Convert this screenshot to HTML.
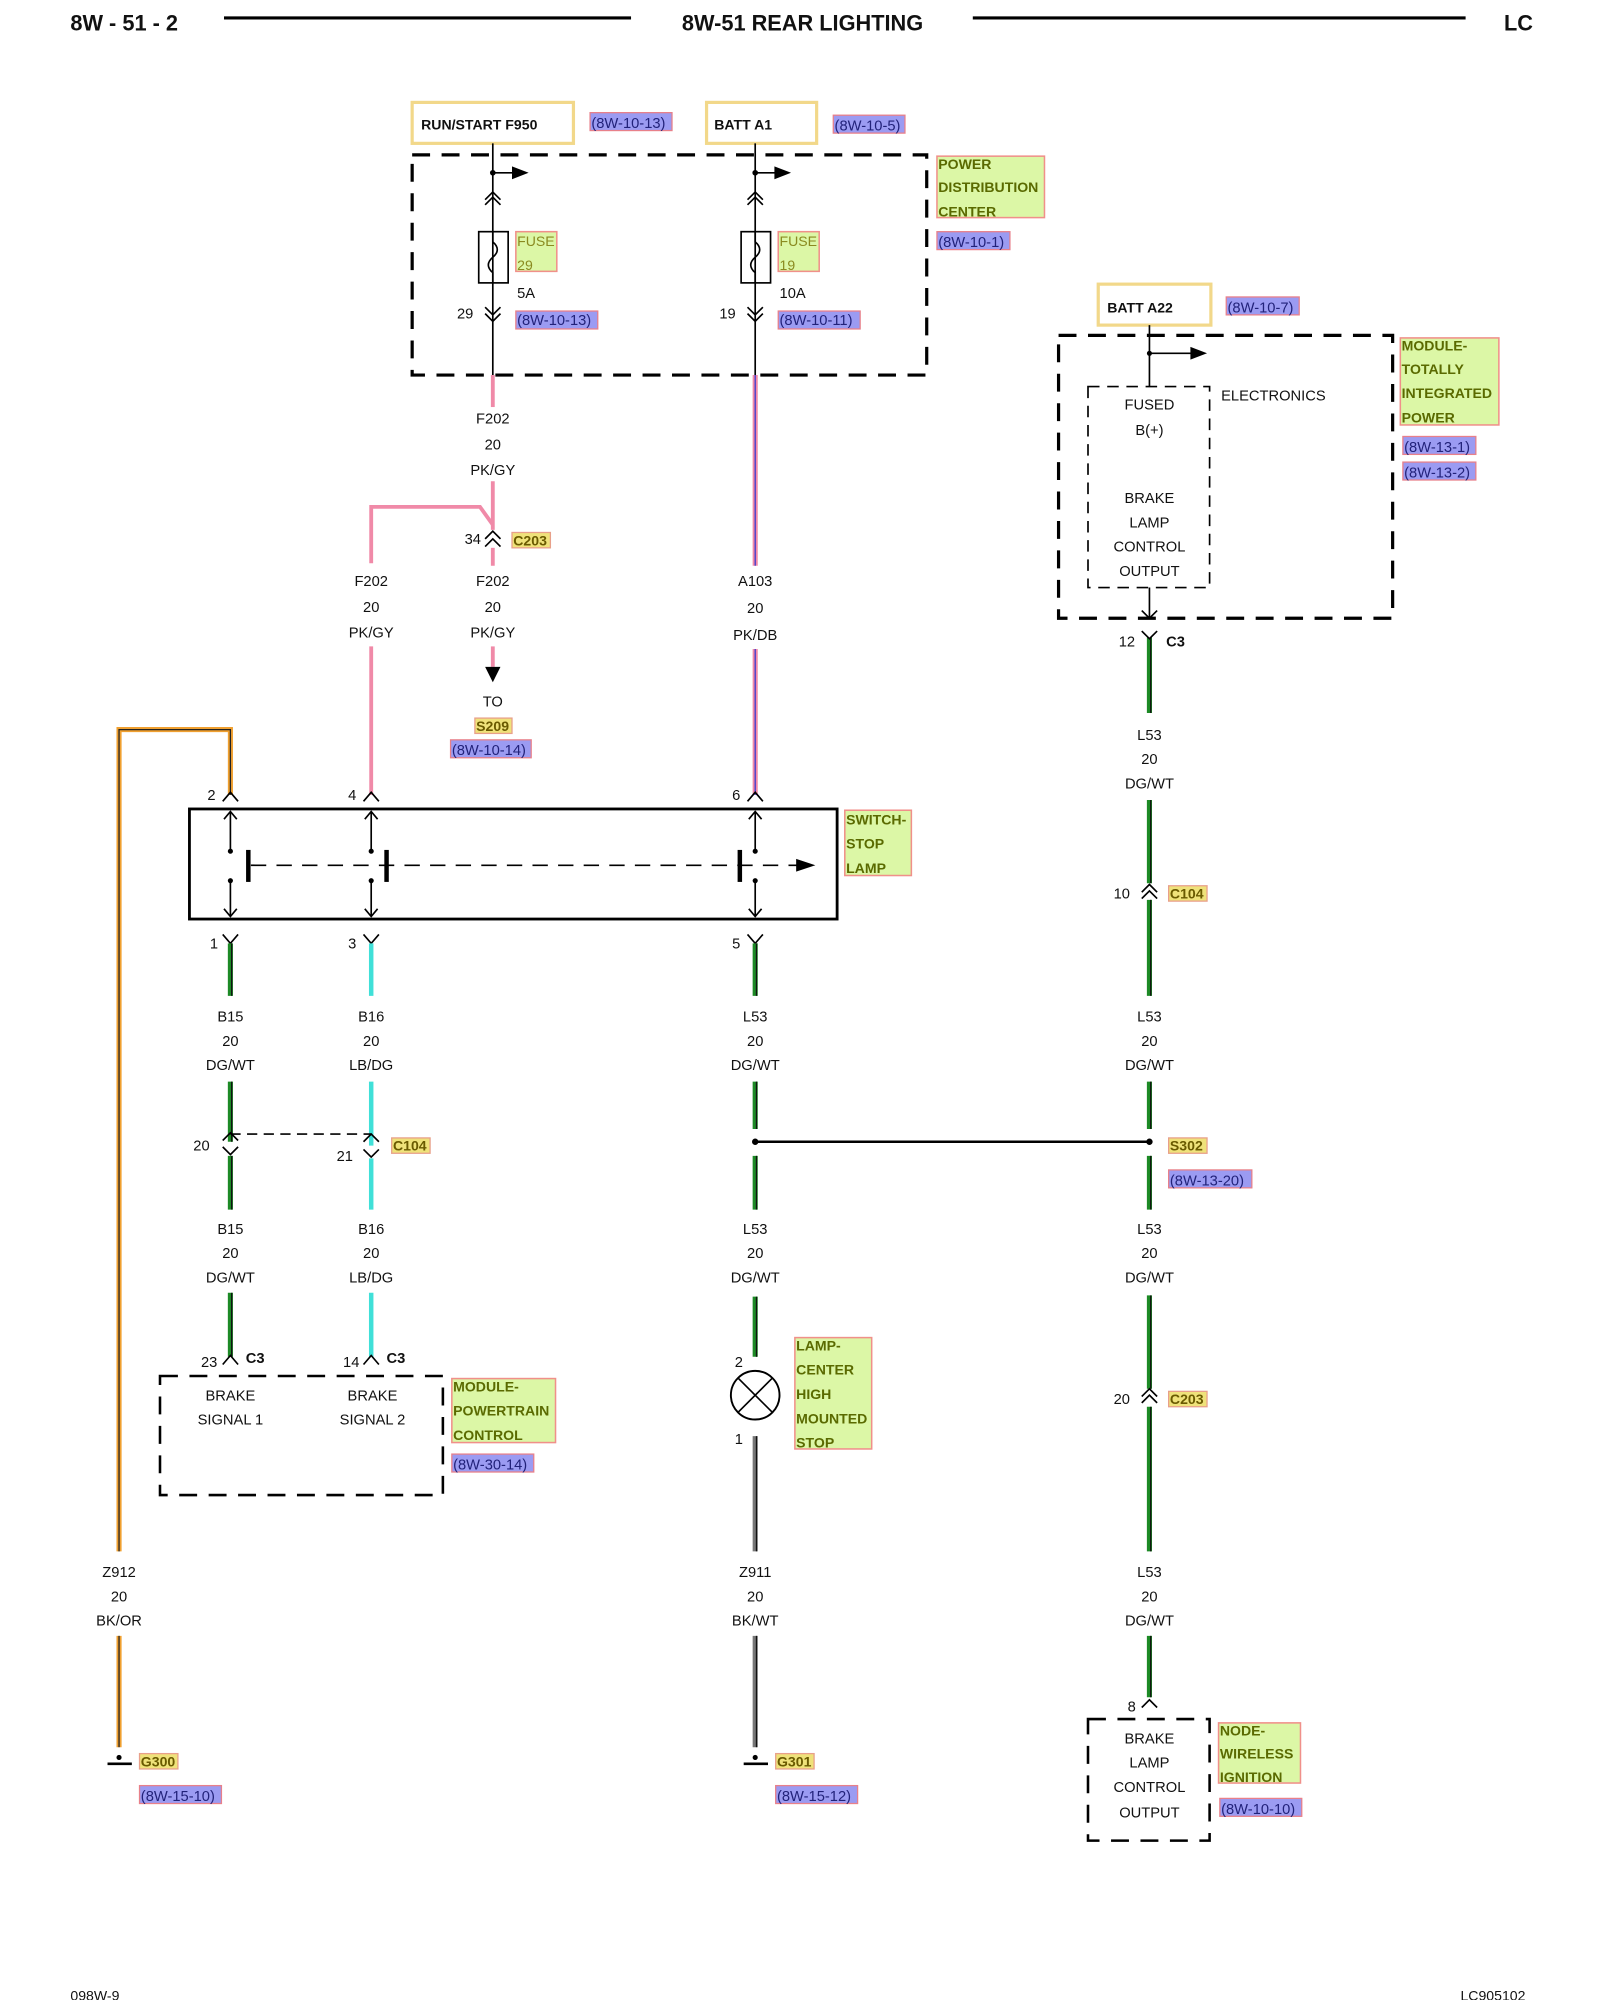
<!DOCTYPE html>
<html><head><meta charset="utf-8"><style>
html,body{margin:0;padding:0;background:#fff;}
svg{display:block;}
text{font-family:"Liberation Sans",Arial,sans-serif;font-size:11.5px;fill:#111;}
.c{text-anchor:middle;}
.b{font-weight:bold;}
.g{fill:#dcf7a6;stroke:#f0908a;stroke-width:1.2;}
.gt{fill:#5a6a00;font-weight:bold;font-size:11px;}
.p{fill:#9b9bf2;stroke:#e8808a;stroke-width:1;}
.pt{fill:#22227a;font-size:11.5px;}
.y{fill:#efe27a;stroke:#e8a08a;stroke-width:1;}
.yt{fill:#6a5a00;font-weight:bold;font-size:11px;}
.k{stroke:#000;fill:none;stroke-width:1.3;}
.d{stroke:#000;fill:none;stroke-width:2.5;stroke-dasharray:14 9;}
.dt{stroke:#000;fill:none;stroke-width:1.3;stroke-dasharray:9 6;}
</style></head><body>
<svg width="1600" height="2000" viewBox="0 0 1250 1562.5" xmlns="http://www.w3.org/2000/svg">
<defs>
<g id="gw"><line x1="0" y1="0" x2="0" y2="1" stroke="#1d8a26" stroke-width="4"/></g>
</defs>
<!-- header -->
<text x="55" y="24" class="b" style="font-size:17px">8W - 51 - 2</text>
<line x1="175" y1="14" x2="493" y2="14" stroke="#000" stroke-width="2.5"/>
<text x="627" y="24" class="b c" style="font-size:17px">8W-51 REAR LIGHTING</text>
<line x1="760" y1="14" x2="1145" y2="14" stroke="#000" stroke-width="2.5"/>
<text x="1175" y="24" class="b" style="font-size:17px">LC</text>
<text x="55" y="1563" style="font-size:11px">098W-9</text>
<text x="1141" y="1563" style="font-size:11px">LC905102</text>

<!-- top source boxes -->
<rect x="322" y="80" width="126" height="32" fill="#fff" stroke="#f2d88a" stroke-width="2.5"/>
<text x="329" y="101" class="b" style="font-size:11px">RUN/START F950</text>
<rect x="461" y="88" width="64" height="14" class="p"/><text x="462" y="100" class="pt">(8W-10-13)</text>
<rect x="552" y="80" width="86" height="32" fill="#fff" stroke="#f2d88a" stroke-width="2.5"/>
<text x="558" y="101" class="b" style="font-size:11px">BATT A1</text>
<rect x="651" y="90" width="56" height="14" class="p"/><text x="652" y="102" class="pt">(8W-10-5)</text>

<!-- PDC -->
<rect x="322" y="121" width="402" height="172" class="d"/>
<rect x="732" y="122" width="84" height="48" class="g"/>
<text x="733" y="132" class="gt">POWER</text><text x="733" y="150" class="gt">DISTRIBUTION</text><text x="733" y="169" class="gt">CENTER</text>
<rect x="732" y="181" width="57" height="14" class="p"/><text x="733" y="193" class="pt">(8W-10-1)</text>

<!-- fuse columns -->
<g id="f1">
<line x1="385" y1="112" x2="385" y2="293" class="k"/>
<circle cx="385" cy="135" r="2.2"/>
<line x1="385" y1="135" x2="402" y2="135" class="k"/><polygon points="400,130 413,135 400,140"/>
<polyline points="379,156 385,150 391,156" class="k"/><polyline points="379,160 385,154 391,160" class="k"/>
<rect x="374" y="181" width="23" height="40" fill="#fff" class="k"/>
<path d="M385,181 L385,189 Q392,195 385,201 Q378,207 385,213 L385,221" class="k"/>
<polyline points="379,240 385,246 391,240" class="k"/><polyline points="379,245 385,251 391,245" class="k"/>
</g>
<rect x="403" y="181" width="32" height="31" class="g"/><text x="404" y="192" style="fill:#8a8a20;font-size:11px">FUSE</text><text x="404" y="211" style="fill:#8a8a20;font-size:11px">29</text>
<text x="404" y="233">5A</text><text x="357" y="249">29</text>
<rect x="403" y="243" width="64" height="14" class="p"/><text x="404" y="254" class="pt">(8W-10-13)</text>
<use href="#f1" transform="translate(205,0)"/>
<rect x="608" y="181" width="32" height="31" class="g"/><text x="609" y="192" style="fill:#8a8a20;font-size:11px">FUSE</text><text x="609" y="211" style="fill:#8a8a20;font-size:11px">19</text>
<text x="609" y="233">10A</text><text x="562" y="249">19</text>
<rect x="608" y="243" width="64" height="14" class="p"/><text x="609" y="254" class="pt">(8W-10-11)</text>

<!-- F202 pink -->
<g stroke="#f08aa8" stroke-width="3" fill="none">
<line x1="385" y1="293" x2="385" y2="318"/>
<line x1="385" y1="376" x2="385" y2="414"/>
<polyline points="385,410 375,396 290,396 290,440"/>
<line x1="290" y1="505" x2="290" y2="621"/>
<line x1="385" y1="428" x2="385" y2="442"/>
<line x1="385" y1="505" x2="385" y2="521"/>
</g>
<text x="385" y="331" class="c">F202</text><text x="385" y="351" class="c">20</text><text x="385" y="371" class="c">PK/GY</text>
<text x="363" y="425">34</text>
<polyline points="379,421 385,415 391,421" class="k"/><polyline points="379,427 385,421 391,427" class="k"/>
<rect x="400" y="416" width="30" height="12" class="y"/><text x="401" y="426" class="yt">C203</text>
<text x="290" y="458" class="c">F202</text><text x="290" y="478" class="c">20</text><text x="290" y="498" class="c">PK/GY</text>
<text x="385" y="458" class="c">F202</text><text x="385" y="478" class="c">20</text><text x="385" y="498" class="c">PK/GY</text>
<polygon points="379,521 391,521 385,533"/>
<text x="385" y="552" class="c">TO</text>
<rect x="371" y="561" width="29" height="12" class="y"/><text x="372" y="571" class="yt">S209</text>
<rect x="352" y="578" width="63" height="14" class="p"/><text x="353" y="590" class="pt">(8W-10-14)</text>

<!-- A103 -->
<g fill="none"><line x1="590" y1="293" x2="590" y2="442" stroke="#f08aa8" stroke-width="4"/><line x1="590" y1="293" x2="590" y2="442" stroke="#3a3ad0" stroke-width="1"/>
<line x1="590" y1="507" x2="590" y2="621" stroke="#f08aa8" stroke-width="4"/><line x1="590" y1="507" x2="590" y2="621" stroke="#3a3ad0" stroke-width="1"/></g>
<text x="590" y="458" class="c">A103</text><text x="590" y="479" class="c">20</text><text x="590" y="500" class="c">PK/DB</text>

<!-- Z912 -->
<g fill="none"><polyline points="180,621 180,570 93,570 93,1212" stroke="#f0a030" stroke-width="4"/><polyline points="180,621 180,570 93,570 93,1212" stroke="#222" stroke-width="1"/>
<line x1="93" y1="1278" x2="93" y2="1365" stroke="#f0a030" stroke-width="4"/><line x1="93" y1="1278" x2="93" y2="1365" stroke="#222" stroke-width="1"/></g>
<text x="93" y="1232" class="c">Z912</text><text x="93" y="1251" class="c">20</text><text x="93" y="1270" class="c">BK/OR</text>
<line x1="84" y1="1378" x2="103" y2="1378" stroke="#000" stroke-width="2"/><circle cx="93" cy="1373" r="2"/>
<rect x="109" y="1370" width="30" height="12" class="y"/><text x="110" y="1380" class="yt">G300</text>
<rect x="109" y="1395" width="64" height="14" class="p"/><text x="110" y="1407" class="pt">(8W-15-10)</text>

<!-- switch -->
<text x="162" y="625">2</text><text x="272" y="625">4</text><text x="572" y="625">6</text>
<polyline points="174,626 180,619 186,626" class="k"/><polyline points="284,626 290,619 296,626" class="k"/><polyline points="584,626 590,619 596,626" class="k"/>
<rect x="148" y="632" width="506" height="86" fill="none" stroke="#000" stroke-width="2.2"/>
<g class="k">
<line x1="180" y1="634" x2="180" y2="665"/><polyline points="175,640 180,634 185,640"/><line x1="180" y1="688" x2="180" y2="716"/><polyline points="175,710 180,716 185,710"/>
<line x1="290" y1="634" x2="290" y2="665"/><polyline points="285,640 290,634 295,640"/><line x1="290" y1="688" x2="290" y2="716"/><polyline points="285,710 290,716 295,710"/>
<line x1="590" y1="634" x2="590" y2="665"/><polyline points="585,640 590,634 595,640"/><line x1="590" y1="688" x2="590" y2="716"/><polyline points="585,710 590,716 595,710"/>
</g>
<circle cx="180" cy="665" r="2"/><circle cx="180" cy="688" r="2"/><circle cx="290" cy="665" r="2"/><circle cx="290" cy="688" r="2"/><circle cx="590" cy="665" r="2"/><circle cx="590" cy="688" r="2"/>
<g stroke="#000" stroke-width="3.5"><line x1="194" y1="664" x2="194" y2="689"/><line x1="302" y1="664" x2="302" y2="689"/><line x1="578" y1="664" x2="578" y2="689"/></g>
<line x1="196" y1="676" x2="624" y2="676" stroke="#000" stroke-width="1.3" stroke-dasharray="12 8"/>
<polygon points="622,671 637,676 622,681"/>
<rect x="660" y="633" width="52" height="51" class="g"/><text x="661" y="644" class="gt">SWITCH-</text><text x="661" y="663" class="gt">STOP</text><text x="661" y="682" class="gt">LAMP</text>

<!-- below switch pins -->
<text x="164" y="741">1</text><text x="272" y="741">3</text><text x="572" y="741">5</text>
<polyline points="174,730 180,737 186,730" class="k"/><polyline points="284,730 290,737 296,730" class="k"/><polyline points="584,730 590,737 596,730" class="k"/>

<!-- green wire segments -->
<g fill="none">
<g stroke="#1d8a26" stroke-width="4">
<line x1="180" y1="737" x2="180" y2="778"/><line x1="180" y1="845" x2="180" y2="892"/><line x1="180" y1="903" x2="180" y2="945"/><line x1="180" y1="1010" x2="180" y2="1060"/>
<line x1="590" y1="737" x2="590" y2="778"/><line x1="590" y1="845" x2="590" y2="882"/><line x1="590" y1="903" x2="590" y2="945"/><line x1="590" y1="1013" x2="590" y2="1060"/>
<line x1="898" y1="498" x2="898" y2="557"/><line x1="898" y1="625" x2="898" y2="690"/><line x1="898" y1="703" x2="898" y2="778"/><line x1="898" y1="845" x2="898" y2="882"/><line x1="898" y1="903" x2="898" y2="945"/><line x1="898" y1="1012" x2="898" y2="1085"/><line x1="898" y1="1099" x2="898" y2="1212"/><line x1="898" y1="1278" x2="898" y2="1326"/>
</g>
<g stroke="#111" stroke-width="1">
<line x1="181" y1="737" x2="181" y2="778"/><line x1="181" y1="845" x2="181" y2="892"/><line x1="181" y1="903" x2="181" y2="945"/><line x1="181" y1="1010" x2="181" y2="1060"/>
<line x1="591" y1="737" x2="591" y2="778"/><line x1="591" y1="845" x2="591" y2="882"/><line x1="591" y1="903" x2="591" y2="945"/><line x1="591" y1="1013" x2="591" y2="1060"/>
<line x1="899" y1="498" x2="899" y2="557"/><line x1="899" y1="625" x2="899" y2="690"/><line x1="899" y1="703" x2="899" y2="778"/><line x1="899" y1="845" x2="899" y2="882"/><line x1="899" y1="903" x2="899" y2="945"/><line x1="899" y1="1012" x2="899" y2="1085"/><line x1="899" y1="1099" x2="899" y2="1212"/><line x1="899" y1="1278" x2="899" y2="1326"/>
</g>
<g stroke="#40e0d8" stroke-width="3.5">
<line x1="290" y1="737" x2="290" y2="778"/><line x1="290" y1="845" x2="290" y2="895"/><line x1="290" y1="905" x2="290" y2="945"/><line x1="290" y1="1010" x2="290" y2="1060"/>
</g>
<g stroke="#777" stroke-width="4"><line x1="590" y1="1122" x2="590" y2="1212"/><line x1="590" y1="1278" x2="590" y2="1365"/></g>
<g stroke="#111" stroke-width="1"><line x1="591" y1="1122" x2="591" y2="1212"/><line x1="591" y1="1278" x2="591" y2="1365"/></g>
</g>

<!-- labels columns -->
<g class="c">
<text x="180" y="798" class="c">B15</text><text x="180" y="817" class="c">20</text><text x="180" y="836" class="c">DG/WT</text>
<text x="290" y="798" class="c">B16</text><text x="290" y="817" class="c">20</text><text x="290" y="836" class="c">LB/DG</text>
<text x="590" y="798" class="c">L53</text><text x="590" y="817" class="c">20</text><text x="590" y="836" class="c">DG/WT</text>
<text x="898" y="798" class="c">L53</text><text x="898" y="817" class="c">20</text><text x="898" y="836" class="c">DG/WT</text>
<text x="180" y="964" class="c">B15</text><text x="180" y="983" class="c">20</text><text x="180" y="1002" class="c">DG/WT</text>
<text x="290" y="964" class="c">B16</text><text x="290" y="983" class="c">20</text><text x="290" y="1002" class="c">LB/DG</text>
<text x="590" y="964" class="c">L53</text><text x="590" y="983" class="c">20</text><text x="590" y="1002" class="c">DG/WT</text>
<text x="898" y="964" class="c">L53</text><text x="898" y="983" class="c">20</text><text x="898" y="1002" class="c">DG/WT</text>
<text x="898" y="578" class="c">L53</text><text x="898" y="597" class="c">20</text><text x="898" y="616" class="c">DG/WT</text>
<text x="590" y="1232" class="c">Z911</text><text x="590" y="1251" class="c">20</text><text x="590" y="1270" class="c">BK/WT</text>
<text x="898" y="1232" class="c">L53</text><text x="898" y="1251" class="c">20</text><text x="898" y="1270" class="c">DG/WT</text>
</g>

<!-- C104 left -->
<text x="151" y="899">20</text><text x="263" y="907">21</text>
<polyline points="174,891 180,885 186,891" class="k"/><polyline points="174,896 180,902 186,896" class="k"/>
<polyline points="284,892 290,886 296,892" class="k"/><polyline points="284,898 290,904 296,898" class="k"/>
<line x1="180" y1="886" x2="290" y2="886" stroke="#000" stroke-width="1.2" stroke-dasharray="8 5"/>
<rect x="306" y="889" width="30" height="12" class="y"/><text x="307" y="899" class="yt">C104</text>

<!-- PCM -->
<text x="157" y="1068">23</text><text x="192" y="1065" class="b">C3</text>
<text x="268" y="1068">14</text><text x="302" y="1065" class="b">C3</text>
<polyline points="174,1066 180,1059 186,1066" class="k"/><polyline points="284,1066 290,1059 296,1066" class="k"/>
<rect x="125" y="1075" width="221" height="93" class="d" style="stroke-width:2"/>
<text x="180" y="1094" class="c">BRAKE</text><text x="180" y="1113" class="c">SIGNAL 1</text>
<text x="291" y="1094" class="c">BRAKE</text><text x="291" y="1113" class="c">SIGNAL 2</text>
<rect x="353" y="1077" width="81" height="50" class="g"/><text x="354" y="1087" class="gt">MODULE-</text><text x="354" y="1106" class="gt">POWERTRAIN</text><text x="354" y="1125" class="gt">CONTROL</text>
<rect x="353" y="1136" width="64" height="14" class="p"/><text x="354" y="1148" class="pt">(8W-30-14)</text>

<!-- splice line -->
<line x1="590" y1="892" x2="898" y2="892" stroke="#000" stroke-width="2"/>
<circle cx="590" cy="892" r="2.5"/><circle cx="898" cy="892" r="2.5"/>

<!-- lamp -->
<text x="574" y="1068">2</text>
<circle cx="590" cy="1090" r="19" fill="#fff" stroke="#000" stroke-width="1.5"/>
<line x1="577" y1="1077" x2="603" y2="1103" class="k"/><line x1="603" y1="1077" x2="577" y2="1103" class="k"/>
<text x="574" y="1128">1</text>
<rect x="621" y="1045" width="60" height="87" class="g"/><text x="622" y="1055" class="gt">LAMP-</text><text x="622" y="1074" class="gt">CENTER</text><text x="622" y="1093" class="gt">HIGH</text><text x="622" y="1112" class="gt">MOUNTED</text><text x="622" y="1131" class="gt">STOP</text>
<line x1="581" y1="1378" x2="600" y2="1378" stroke="#000" stroke-width="2"/><circle cx="590" cy="1373" r="2"/>
<rect x="606" y="1370" width="30" height="12" class="y"/><text x="607" y="1380" class="yt">G301</text>
<rect x="606" y="1395" width="64" height="14" class="p"/><text x="607" y="1407" class="pt">(8W-15-12)</text>

<!-- TIPM -->
<rect x="858" y="222" width="88" height="32" fill="#fff" stroke="#f2d88a" stroke-width="2.5"/>
<text x="865" y="244" class="b" style="font-size:11px">BATT A22</text>
<rect x="958" y="232" width="57" height="14" class="p"/><text x="959" y="244" class="pt">(8W-10-7)</text>
<rect x="827" y="262" width="261" height="221" class="d"/>
<rect x="850" y="302" width="95" height="157" class="dt"/>
<line x1="898" y1="254" x2="898" y2="302" class="k"/><circle cx="898" cy="276" r="2"/>
<line x1="898" y1="276" x2="932" y2="276" class="k"/><polygon points="930,271 943,276 930,281"/>
<text x="954" y="313">ELECTRONICS</text>
<text x="898" y="320" class="c">FUSED</text><text x="898" y="340" class="c">B(+)</text>
<text x="898" y="393" class="c">BRAKE</text><text x="898" y="412" class="c">LAMP</text><text x="898" y="431" class="c">CONTROL</text><text x="898" y="450" class="c">OUTPUT</text>
<line x1="898" y1="459" x2="898" y2="483" class="k"/><polyline points="892,477 898,483 904,477" class="k"/>
<rect x="1094" y="264" width="77" height="68" class="g"/><text x="1095" y="274" class="gt">MODULE-</text><text x="1095" y="292" class="gt">TOTALLY</text><text x="1095" y="311" class="gt">INTEGRATED</text><text x="1095" y="330" class="gt">POWER</text>
<rect x="1096" y="341" width="57" height="14" class="p"/><text x="1097" y="353" class="pt">(8W-13-1)</text>
<rect x="1096" y="361" width="57" height="14" class="p"/><text x="1097" y="373" class="pt">(8W-13-2)</text>
<text x="874" y="505">12</text><text x="911" y="505" class="b">C3</text>
<polyline points="892,493 898,499 904,493" class="k"/>
<text x="870" y="702">10</text>
<polyline points="892,697 898,691 904,697" class="k"/><polyline points="892,702 898,696 904,702" class="k"/>
<rect x="913" y="692" width="30" height="12" class="y"/><text x="914" y="702" class="yt">C104</text>
<rect x="913" y="889" width="30" height="12" class="y"/><text x="914" y="899" class="yt">S302</text>
<rect x="913" y="914" width="65" height="14" class="p"/><text x="914" y="926" class="pt">(8W-13-20)</text>
<text x="870" y="1097">20</text>
<polyline points="892,1091 898,1085 904,1091" class="k"/><polyline points="892,1096 898,1090 904,1096" class="k"/>
<rect x="913" y="1087" width="30" height="12" class="y"/><text x="914" y="1097" class="yt">C203</text>
<text x="881" y="1337">8</text>
<polyline points="892,1334 898,1328 904,1334" class="k"/>
<rect x="850" y="1343" width="95" height="95" class="d" style="stroke-width:2"/>
<text x="898" y="1362" class="c">BRAKE</text><text x="898" y="1381" class="c">LAMP</text><text x="898" y="1400" class="c">CONTROL</text><text x="898" y="1420" class="c">OUTPUT</text>
<rect x="952" y="1346" width="64" height="47" class="g"/><text x="953" y="1356" class="gt">NODE-</text><text x="953" y="1374" class="gt">WIRELESS</text><text x="953" y="1392" class="gt">IGNITION</text>
<rect x="953" y="1405" width="64" height="14" class="p"/><text x="954" y="1417" class="pt">(8W-10-10)</text>
</svg>
</body></html>
